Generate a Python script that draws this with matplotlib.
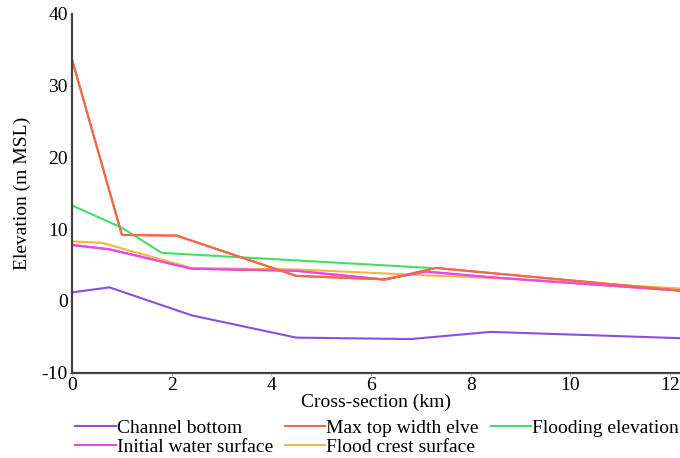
import matplotlib.pyplot as plt

# 讀取圖中數值
bottom_x = [0, 0.75, 2.4, 4.5, 6.8, 8.4, 12.3]
bottom_y = [1.2, 1.9, -2.0, -5.1, -5.3, -4.3, -5.2]

maxtop_x = [0, 1.0, 2.1, 4.5, 6.3, 7.3, 12.3]
maxtop_y = [33.6, 9.2, 9.1, 3.5, 3.0, 4.6, 1.4]

crest_x = [0, 0.6, 2.4, 4.5, 7.0, 8.5, 12.3]
crest_y = [8.3, 8.1, 4.6, 4.4, 3.6, 3.2, 1.7]

initial_x = [0, 0.75, 2.4, 4.5, 6.25, 7.1, 8.4, 12.3]
initial_y = [7.8, 7.2, 4.5, 4.2, 3.0, 4.1, 3.3, 1.4]

flood_x = [0, 1.0, 1.8, 7.2]
flood_y = [13.3, 10.2, 6.7, 4.6]

plt.rcParams['font.family'] = ['Liberation Serif', 'DejaVu Serif']

fig = plt.figure(figsize=(6.8, 4.58), dpi=100)
ax = fig.add_axes([0.106, 0.186, 0.894, 0.784])

l1, = ax.plot(bottom_x, bottom_y, color='#8a4fe0', lw=1.5, label='Channel bottom')
l2, = ax.plot(initial_x, initial_y, color='#ee44ee', lw=1.5, label='Initial water surface')
l3, = ax.plot(maxtop_x, maxtop_y, color='#ee6a4a', lw=1.5, label='Max top width elve')
l4, = ax.plot(crest_x, crest_y, color='#f0b840', lw=1.5, label='Flood crest surface')
l5, = ax.plot(flood_x, flood_y, color='#44dd66', lw=1.5, label='Flooding elevation')
# 上層再畫一次讓重疊的樣子接近原圖
ax.plot(initial_x, initial_y, color='#ee44ee', lw=1.5)
ax.plot(maxtop_x, maxtop_y, color='#ee6a4a', lw=1.5)

ax.set_xlim(0, 12.2)
ax.set_ylim(-10, 40)
ax.set_xticks([0, 2, 4, 6, 8, 10, 12])
ax.set_yticks([-10, 0, 10, 20, 30, 40])
ax.set_yticklabels(['-10', '0', '10', '20', '30', '40'])

for s in ['top', 'right']:
    ax.spines[s].set_visible(False)
for s in ['left', 'bottom']:
    ax.spines[s].set_color('#444444')
    ax.spines[s].set_linewidth(1.6)
ax.tick_params(axis='both', length=2, width=0.6, color='#bbbbbb', labelsize=14, pad=1)

ax.set_xlabel('Cross-section (km)', fontsize=14, labelpad=0)
ax.set_ylabel('Elevation (m MSL)', fontsize=14, labelpad=8)

fig.legend(handles=[l1, l2, l3, l4, l5], loc='lower left', bbox_to_anchor=(0.09, -0.025),
           ncol=3, frameon=False, fontsize=14, handlelength=2.1, handletextpad=0.05,
           columnspacing=0.6, labelspacing=0.05, borderpad=0.2)

plt.savefig('out.png')
